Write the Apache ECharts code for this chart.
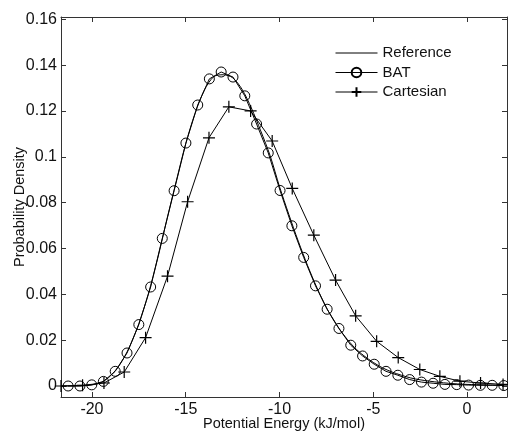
<!DOCTYPE html>
<html>
<head>
<meta charset="utf-8">
<script src="https://cdn.jsdelivr.net/npm/echarts@6/dist/echarts.min.js"></script>
<style>
html,body{margin:0;padding:0;background:#fff;}
#chart{width:508px;height:433px;}
</style>
</head>
<body>
<div id="chart"></div>
<script>
// ---- data ----
const refX = [-21.65,-20.5,-20,-19.5,-19,-18.5,-18,-17.5,-17,-16.5,-16,-15.5,-15,-14.5,-14,-13.5,-13,-12.5,-12,-11.5,-11,-10.5,-10,-9.5,-9,-8.5,-8,-7.5,-7,-6.5,-6,-5.5,-5,-4.5,-4,-3.5,-3,-2.5,-2,-1.5,-1,-0.5,0,0.5,1,1.5,2.13];
const refY = [0,0.0001,0.0005,0.0015,0.0045,0.0095,0.0170,0.0272,0.0400,0.0555,0.0728,0.0895,0.1057,0.1190,0.1292,0.1350,0.1358,0.1345,0.1295,0.1213,0.1113,0.1005,0.0870,0.0748,0.0632,0.0525,0.0428,0.0342,0.0272,0.0215,0.0168,0.0132,0.0103,0.0079,0.0061,0.0047,0.0035,0.0027,0.0021,0.0016,0.0012,0.0009,0.0007,0.0006,0.0005,0.0004,0.0003];

const batX = [-21.27,-20.64,-20.01,-19.39,-18.76,-18.13,-17.50,-16.87,-16.25,-15.62,-14.99,-14.36,-13.74,-13.11,-12.48,-11.85,-11.22,-10.60,-9.97,-9.34,-8.71,-8.08,-7.46,-6.83,-6.20,-5.57,-4.95,-4.32,-3.69,-3.06,-2.43,-1.81,-1.18,-0.55,0.08,0.71,1.34,1.96];
const batY = [0,0,0.0005,0.002,0.0064,0.0144,0.0268,0.0432,0.0644,0.0852,0.106,0.1226,0.134,0.137,0.1348,0.1266,0.1143,0.1017,0.0853,0.0699,0.0561,0.0437,0.0335,0.0251,0.0178,0.0131,0.0095,0.0064,0.0047,0.0028,0.0017,0.0012,0.0007,0.0006,0.0004,0.0003,0.0003,0.0002];

const cartX = [-21.65,-20.5,-19.36,-18.28,-17.14,-15.97,-14.9,-13.76,-12.7,-11.54,-10.39,-9.32,-8.17,-7.01,-5.94,-4.82,-3.67,-2.52,-1.45,-0.38,0.72,1.92];
const cartY = [0,0.0003,0.0013,0.0061,0.0211,0.0479,0.0804,0.1083,0.1218,0.12,0.1069,0.0862,0.0658,0.0462,0.0306,0.0195,0.0124,0.0072,0.0042,0.0021,0.0013,0.0007];

const xTicks = [-20,-15,-10,-5,0];
const yTicks = [0,0.02,0.04,0.06,0.08,0.1,0.12,0.14,0.16];
const seriesNames = ['Reference','BAT','Cartesian'];
const xTitle = 'Potential Energy (kJ/mol)';
const yTitle = 'Probability Density';

const X_MIN = -21.65, X_MAX = 2.13, Y_MIN = -0.0048, Y_MAX = 0.161;

function zip(a, b) { return a.map((v, i) => [v, b[i]]); }

const FONT = 'Liberation Sans, Arial, sans-serif';
const AX = '#333';
const plusPath = 'path://M0,-10L0,10M-10,0L10,0';

const chart = echarts.init(document.getElementById('chart'), null, {renderer: 'canvas'});
const baseX = {
  type: 'value', min: X_MIN, max: X_MAX,
  axisLine: {show: true, onZero: false, lineStyle: {color: AX, width: 1}},
  splitLine: {show: false}
};
const baseY = {
  type: 'value', min: Y_MIN, max: Y_MAX,
  axisLine: {show: true, onZero: false, lineStyle: {color: AX, width: 1}},
  splitLine: {show: false}
};
chart.setOption({
  animation: false,
  backgroundColor: '#fff',
  grid: {left: 61, right: 1, top: 17, bottom: 36, containLabel: false, outerBoundsMode: 'none'},
  legend: {
    orient: 'vertical', left: 335, top: 45.5, padding: 0,
    itemWidth: 42, itemHeight: 12, itemGap: 4.5,
    lineStyle: {width: 1},
    textStyle: {fontFamily: FONT, fontSize: 15, color: '#111'},
    data: [
      {name: seriesNames[0], itemStyle: {opacity: 0}},
      {name: seriesNames[1]},
      {name: seriesNames[2]}
    ]
  },
  xAxis: [
    Object.assign({}, baseX, {
      position: 'bottom',
      name: xTitle, nameLocation: 'middle', nameGap: 19, nameMoveOverlap: false,
      nameTextStyle: {fontFamily: FONT, fontSize: 14.5, color: '#111'},
      axisTick: {show: true, inside: true, length: 5, lineStyle: {color: AX}, customValues: xTicks},
      axisLabel: {show: true, fontFamily: FONT, fontSize: 16, color: '#111', margin: 5, customValues: xTicks}
    }),
    Object.assign({}, baseX, {
      position: 'top',
      axisTick: {show: true, inside: true, length: 5, lineStyle: {color: AX}, customValues: xTicks},
      axisLabel: {show: false}
    })
  ],
  yAxis: [
    Object.assign({}, baseY, {
      position: 'left',
      name: yTitle, nameLocation: 'middle', nameGap: 34, nameRotate: 90, nameMoveOverlap: false,
      nameTextStyle: {fontFamily: FONT, fontSize: 14.5, color: '#111'},
      axisTick: {show: true, inside: true, length: 5, lineStyle: {color: AX}, customValues: yTicks},
      axisLabel: {show: true, fontFamily: FONT, fontSize: 16, color: '#111', margin: 4,
        customValues: yTicks, formatter: v => String(+(+v).toFixed(2))}
    }),
    Object.assign({}, baseY, {
      position: 'right',
      axisTick: {show: true, inside: true, length: 5, lineStyle: {color: AX}, customValues: yTicks},
      axisLabel: {show: false}
    })
  ],
  series: [
    {
      name: seriesNames[0], type: 'line', data: zip(refX, refY),
      symbol: 'none', smooth: 0.3, color: '#000',
      lineStyle: {color: '#000', width: 1}
    },
    {
      name: seriesNames[1], type: 'line', data: zip(batX, batY),
      symbol: 'circle', symbolSize: 10, showAllSymbol: true, color: '#000',
      lineStyle: {color: '#000', width: 1},
      itemStyle: {color: 'rgba(0,0,0,0)', borderColor: '#000', borderWidth: 1}
    },
    {
      name: seriesNames[2], type: 'line', data: zip(cartX, cartY),
      symbol: plusPath, symbolSize: 12, showAllSymbol: true, color: '#000',
      lineStyle: {color: '#000', width: 1},
      itemStyle: {color: 'rgba(0,0,0,0)', borderColor: '#000', borderWidth: 1.2}
    }
  ]
});
</script>
</body>
</html>
